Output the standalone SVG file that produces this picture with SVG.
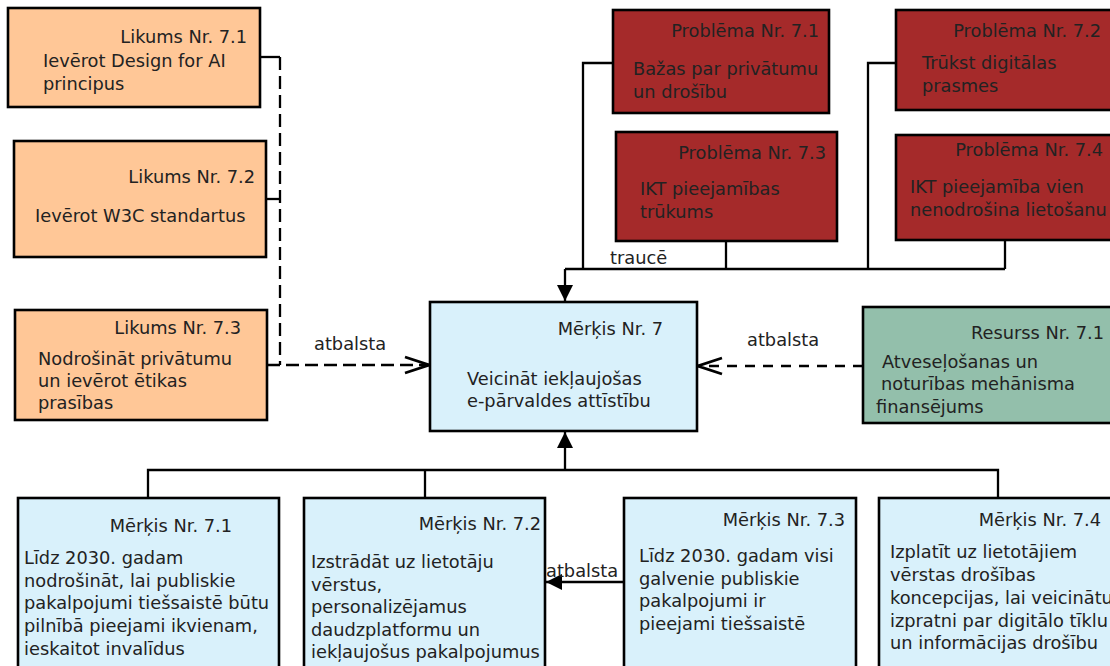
<svg xmlns="http://www.w3.org/2000/svg" width="1110" height="666" viewBox="0 0 1110 666">
  <style>
    text { font-family: "DejaVu Sans", "Liberation Sans", sans-serif; font-size: 17.8px; fill: #222; }
    .title { text-anchor: end; }
    .box { stroke: #000; stroke-width: 2.6; }
    .law { fill: #ffc797; }
    .problem { fill: #a52a2a; }
    .goal { fill: #d9f1fb; }
    .resource { fill: #93bfab; }
    .wire { fill: none; stroke: #000; stroke-width: 2.3; }
    .dash-long { stroke-dasharray: 13 6; }
    .dash-short { stroke-dasharray: 10 8; }
  </style>
  <defs>
    <marker id="solidHead" markerUnits="userSpaceOnUse" markerWidth="18" markerHeight="18" refX="16" refY="8" orient="auto" viewBox="0 0 18 18">
      <path d="M0,0 L16,8 L0,16 z" fill="#000"/>
    </marker>
    <marker id="openHead" markerUnits="userSpaceOnUse" markerWidth="30" markerHeight="20" refX="26" refY="10" orient="auto" viewBox="0 0 30 20">
      <path d="M2,2 L26,10 L2,18" fill="none" stroke="#000" stroke-width="2.8"/>
    </marker>
  </defs>

  <!-- connectors -->
  <g id="connectors">
    <!-- laws support the main goal -->
    <path class="wire" d="M260,57 H280"/>
    <path class="wire" d="M266,199 H280"/>
    <path class="wire dash-long" d="M280,57 V365"/>
    <path class="wire dash-long" d="M267,365 H429" marker-end="url(#openHead)"/>
    <text x="314" y="350">atbalsta</text>

    <!-- problems hinder the main goal -->
    <path class="wire" d="M613,63 H583 V269"/>
    <path class="wire" d="M896,63 H868 V269"/>
    <path class="wire" d="M726,241 V269"/>
    <path class="wire" d="M1005,240 V269"/>
    <path class="wire" d="M565,269 H1005"/>
    <path class="wire" d="M565,269 V301" marker-end="url(#solidHead)"/>
    <text x="610" y="264">traucē</text>

    <!-- resource supports the main goal -->
    <path class="wire dash-short" d="M863,366 H698" marker-end="url(#openHead)"/>
    <text x="747" y="346">atbalsta</text>

    <!-- sub-goals feed the main goal -->
    <path class="wire" d="M148,498 V470 H998 V498"/>
    <path class="wire" d="M425,470 V498"/>
    <path class="wire" d="M565,470 V432" marker-end="url(#solidHead)"/>

    <!-- goal 7.3 supports goal 7.2 -->
    <path class="wire" d="M624,582 H546" marker-end="url(#solidHead)"/>
    <text x="546" y="577">atbalsta</text>
  </g>

  <!-- laws -->
  <g id="law-7-1">
    <rect class="box law" x="8" y="8" width="252" height="99"/>
    <text class="title" x="247" y="43">Likums Nr. 7.1</text>
    <text x="43" y="67">Ievērot Design for AI</text>
    <text x="43" y="90">principus</text>
  </g>
  <g id="law-7-2">
    <rect class="box law" x="14" y="141" width="252" height="116"/>
    <text class="title" x="255" y="183">Likums Nr. 7.2</text>
    <text x="35" y="222">Ievērot W3C standartus</text>
  </g>
  <g id="law-7-3">
    <rect class="box law" x="15" y="310" width="252" height="110"/>
    <text class="title" x="241" y="334">Likums Nr. 7.3</text>
    <text x="38" y="365">Nodrošināt privātumu</text>
    <text x="38" y="387">un ievērot ētikas</text>
    <text x="38" y="409">prasības</text>
  </g>

  <!-- problems -->
  <g id="problem-7-1">
    <rect class="box problem" x="613" y="10" width="216" height="103"/>
    <text class="title" x="819" y="37">Problēma Nr. 7.1</text>
    <text x="633" y="75">Bažas par privātumu</text>
    <text x="633" y="98">un drošību</text>
  </g>
  <g id="problem-7-2">
    <rect class="box problem" x="896" y="10" width="230" height="100"/>
    <text class="title" x="1101" y="37">Problēma Nr. 7.2</text>
    <text x="922" y="69">Trūkst digitālas</text>
    <text x="922" y="92">prasmes</text>
  </g>
  <g id="problem-7-3">
    <rect class="box problem" x="616" y="132" width="221" height="109"/>
    <text class="title" x="826" y="159">Problēma Nr. 7.3</text>
    <text x="640" y="195">IKT pieejamības</text>
    <text x="640" y="218">trūkums</text>
  </g>
  <g id="problem-7-4">
    <rect class="box problem" x="896" y="135" width="230" height="105"/>
    <text class="title" x="1103" y="156">Problēma Nr. 7.4</text>
    <text x="910" y="193">IKT pieejamība vien</text>
    <text x="910" y="216">nenodrošina lietošanu</text>
  </g>

  <!-- main goal -->
  <g id="goal-7">
    <rect class="box goal" x="430" y="302" width="267" height="129"/>
    <text class="title" x="663" y="335">Mērķis Nr. 7</text>
    <text x="467" y="385">Veicināt iekļaujošas</text>
    <text x="467" y="407">e-pārvaldes attīstību</text>
  </g>

  <!-- resource -->
  <g id="resource-7-1">
    <rect class="box resource" x="863" y="307" width="263" height="116"/>
    <text class="title" x="1104" y="339">Resurss Nr. 7.1</text>
    <text x="882" y="368">Atveseļošanas un</text>
    <text x="881" y="390">noturības mehānisma</text>
    <text x="876" y="413">finansējums</text>
  </g>

  <!-- sub-goals -->
  <g id="goal-7-1">
    <rect class="box goal" x="18" y="498" width="261" height="180"/>
    <text class="title" x="232" y="532">Mērķis Nr. 7.1</text>
    <text x="24" y="564">Līdz 2030. gadam</text>
    <text x="24" y="587">nodrošināt, lai publiskie</text>
    <text x="24" y="609">pakalpojumi tiešsaistē būtu</text>
    <text x="24" y="632">pilnībā pieejami ikvienam,</text>
    <text x="24" y="655">ieskaitot invalīdus</text>
  </g>
  <g id="goal-7-2">
    <rect class="box goal" x="304" y="498" width="241" height="180"/>
    <text class="title" x="541" y="530">Mērķis Nr. 7.2</text>
    <text x="311" y="568">Izstrādāt uz lietotāju</text>
    <text x="311" y="591">vērstus,</text>
    <text x="311" y="613">personalizējamus</text>
    <text x="311" y="636">daudzplatformu un</text>
    <text x="311" y="658">iekļaujošus pakalpojumus</text>
  </g>
  <g id="goal-7-3">
    <rect class="box goal" x="624" y="498" width="232" height="180"/>
    <text class="title" x="845" y="526">Mērķis Nr. 7.3</text>
    <text x="639" y="562">Līdz 2030. gadam visi</text>
    <text x="639" y="585">galvenie publiskie</text>
    <text x="639" y="607">pakalpojumi ir</text>
    <text x="639" y="630">pieejami tiešsaistē</text>
  </g>
  <g id="goal-7-4">
    <rect class="box goal" x="879" y="498" width="250" height="180"/>
    <text class="title" x="1101" y="526">Mērķis Nr. 7.4</text>
    <text x="890" y="558">Izplatīt uz lietotājiem</text>
    <text x="890" y="581">vērstas drošības</text>
    <text x="890" y="604">koncepcijas, lai veicinātu</text>
    <text x="890" y="627">izpratni par digitālo tīklu</text>
    <text x="890" y="649">un informācijas drošību</text>
  </g>
</svg>
